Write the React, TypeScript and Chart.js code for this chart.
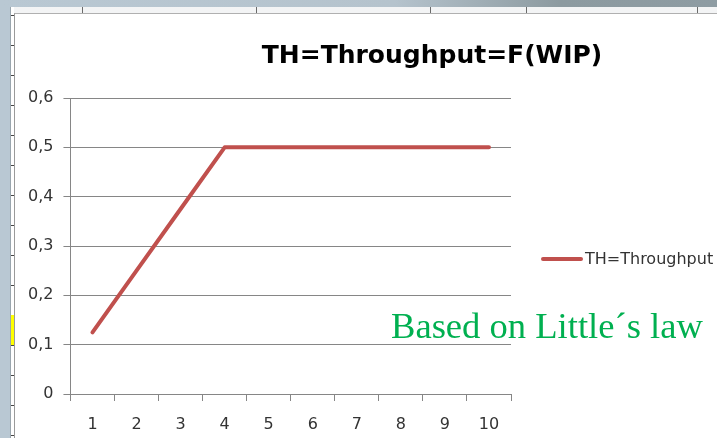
import React, { useEffect, useRef } from 'react';
import { Chart, registerables } from 'chart.js';

Chart.register(...registerables);

const categories = ['1', '2', '3', '4', '5', '6', '7', '8', '9', '10'];
const throughput = [0.125, 0.25, 0.375, 0.5, 0.5, 0.5, 0.5, 0.5, 0.5, 0.5];
const seriesLabel = 'TH=Throughput';
const titleText = 'TH=Throughput=F(WIP)';
const noteText = 'Based on Little´s law';
const yMin = 0;
const yMax = 0.6;
const yStep = 0.1;

const LINE_RED = '#C0504D';
const GRID = '#868686';
const TEXT = '#333333';
const FONT_FAMILY = '"DejaVu Sans", Verdana, sans-serif';
const tickFont = { family: FONT_FAMILY, size: 16 };

const titlePlugin = {
  id: 'offsetTitle',
  afterDraw(chart: any) {
    const ctx = chart.ctx;
    ctx.save();
    ctx.font = 'bold 25px "DejaVu Sans", sans-serif';
    ctx.fillStyle = '#000000';
    ctx.textAlign = 'center';
    ctx.textBaseline = 'alphabetic';
    ctx.fillText(titleText, 432, 63);
    ctx.restore();
  },
};

// Legend drawn at the right of the plot, from the dataset's own label and style
const sideLegendPlugin = {
  id: 'sideLegend',
  afterDraw(chart: any) {
    const ctx = chart.ctx;
    const area = chart.chartArea;
    const cy = (area.top + area.bottom) / 2 + 13;
    const x0 = area.right + 30;
    const sampleW = 42;
    ctx.save();
    chart.data.datasets.forEach((ds: any, i: number) => {
      const y = cy + i * 24;
      ctx.strokeStyle = ds.borderColor;
      ctx.lineWidth = ds.borderWidth;
      ctx.lineCap = 'round';
      ctx.beginPath();
      ctx.moveTo(x0 + 2, y);
      ctx.lineTo(x0 + sampleW - 2, y);
      ctx.stroke();
      ctx.fillStyle = TEXT;
      ctx.font = `16px ${FONT_FAMILY}`;
      ctx.textAlign = 'left';
      ctx.textBaseline = 'middle';
      ctx.fillText(ds.label, x0 + sampleW + 2, y + 1);
    });
    ctx.restore();
  },
};

const rowMarks = [15, 45, 75, 105, 135, 165, 195, 225, 255, 285, 315, 345, 375, 405, 435];
const colMarks = [82, 256, 430, 526, 697];

export default function App() {
  const ref = useRef<HTMLCanvasElement | null>(null);

  useEffect(() => {
    document.body.style.margin = '0';
    if (!ref.current) return;
    const chart = new Chart(ref.current, {
      type: 'line',
      data: {
        labels: categories,
        datasets: [
          {
            label: seriesLabel,
            data: throughput,
            borderColor: LINE_RED,
            backgroundColor: LINE_RED,
            borderWidth: 4,
            borderCapStyle: 'round',
            borderJoinStyle: 'round',
            pointRadius: 0,
            pointHoverRadius: 0,
            tension: 0,
            fill: false,
          },
        ],
      },
      options: {
        responsive: false,
        animation: false,
        layout: { padding: { left: 18, right: 206, top: 98, bottom: 0 } },
        plugins: {
          title: { display: false },
          tooltip: { enabled: false },
          legend: { display: false },
        },
        scales: {
          x: {
            type: 'category',
            offset: true,
            grid: {
              offset: true,
              drawOnChartArea: false,
              drawTicks: true,
              tickLength: 7,
              color: GRID,
            },
            border: { color: GRID },
            ticks: { color: TEXT, font: { ...tickFont, lineHeight: 1 }, padding: 15.5, maxRotation: 0 },
          },
          y: {
            min: yMin,
            max: yMax,
            grid: { color: GRID, tickLength: 7 },
            border: { color: GRID },
            ticks: {
              stepSize: yStep,
              color: TEXT,
              font: tickFont,
              padding: 10,
              callback: (v: any) => (Number(v) === 0 ? '0' : Number(v).toFixed(1).replace('.', ',')),
            },
          },
        },
      },
      plugins: [titlePlugin, sideLegendPlugin],
    } as any);
    return () => chart.destroy();
  }, []);

  return (
    <div
      style={{
        position: 'fixed',
        left: 0,
        top: 0,
        width: 717,
        height: 438,
        overflow: 'hidden',
        background: '#b9c8d3',
      }}
    >
      <div
        style={{
          position: 'absolute',
          left: 0,
          top: 0,
          width: 717,
          height: 7,
          background: 'linear-gradient(to right, #b9c8d3 0%, #b5c3cd 55%, #8c9aa0 78%, #8e9ca3 100%)',
        }}
      />
      <div style={{ position: 'absolute', left: 11, top: 7, width: 706, height: 6, background: '#f3f4f5' }} />
      {colMarks.map((x) => (
        <div key={'c' + x} style={{ position: 'absolute', left: x, top: 7, width: 1, height: 6, background: '#6a6a6a' }} />
      ))}
      <div style={{ position: 'absolute', left: 11, top: 7, width: 3, height: 431, background: '#ffffff' }} />
      <div style={{ position: 'absolute', left: 10, top: 7, width: 1, height: 431, background: '#9aa6ae' }} />
      {rowMarks.map((y) => (
        <div key={'r' + y} style={{ position: 'absolute', left: 11, top: y, width: 3, height: 1, background: '#444' }} />
      ))}
      <div style={{ position: 'absolute', left: 11, top: 315, width: 3, height: 30, background: '#ffff00' }} />
      <div
        style={{
          position: 'absolute',
          left: 14,
          top: 13,
          width: 703,
          height: 425,
          background: '#ffffff',
          borderLeft: '1px solid #9a9a9a',
          borderTop: '1px solid #b0b0b0',
          boxSizing: 'border-box',
        }}
      />
      <canvas
        ref={ref}
        width={717}
        height={448}
        style={{ position: 'absolute', left: 0, top: 0, width: 717, height: 448, display: 'block' }}
      />
      <div
        style={{
          position: 'absolute',
          left: 391,
          top: 308,
          fontFamily: '"Liberation Serif", "Times New Roman", serif',
          fontSize: 36.6,
          lineHeight: '36px',
          color: '#00B050',
          whiteSpace: 'nowrap',
        }}
      >
        {noteText}
      </div>
    </div>
  );
}
